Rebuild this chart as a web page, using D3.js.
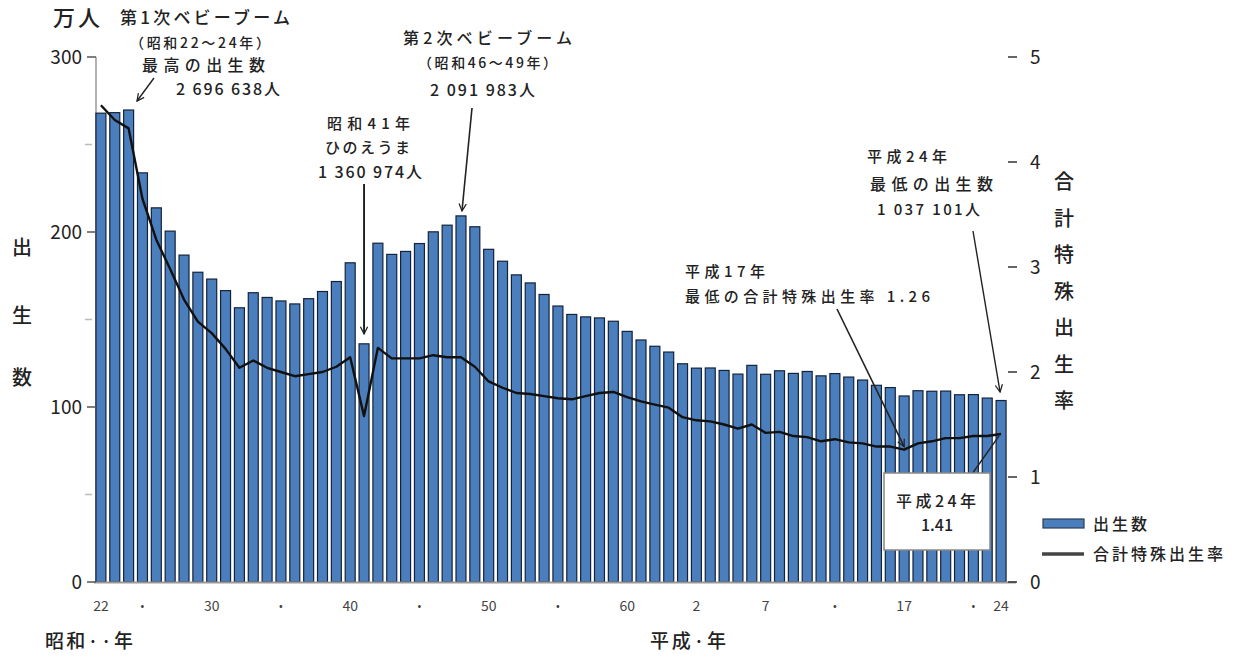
<!DOCTYPE html>
<html><head><meta charset="utf-8">
<script src="https://cdn.jsdelivr.net/npm/d3@7"></script>
<style>
body{margin:0;background:#fff;}
svg{display:block;font-family:"Noto Sans CJK JP","Noto Sans",sans-serif;}
</style></head>
<body><svg id="c" width="1238" height="659"></svg>
<script>
const years = [1947,1948,1949,1950,1951,1952,1953,1954,1955,1956,1957,1958,1959,1960,1961,1962,1963,1964,1965,1966,1967,1968,1969,1970,1971,1972,1973,1974,1975,1976,1977,1978,1979,1980,1981,1982,1983,1984,1985,1986,1987,1988,1989,1990,1991,1992,1993,1994,1995,1996,1997,1998,1999,2000,2001,2002,2003,2004,2005,2006,2007,2008,2009,2010,2011,2012];
const births = [267.9,268.2,269.7,233.8,213.8,200.5,186.8,177.0,173.1,166.5,156.7,165.3,162.6,160.6,158.9,161.9,166.0,171.7,182.4,136.1,193.6,187.2,188.9,193.4,200.1,203.9,209.2,203.0,190.1,183.3,175.5,170.9,164.3,157.7,152.9,151.5,150.9,149.0,143.2,138.3,134.7,131.4,124.7,122.2,122.3,120.9,118.8,123.8,118.7,120.7,119.2,120.3,117.8,119.1,117.1,115.4,112.4,111.1,106.3,109.3,109.0,109.1,107.0,107.1,105.1,103.7];
const tfr = [4.54,4.40,4.32,3.65,3.26,2.98,2.69,2.48,2.37,2.22,2.04,2.11,2.04,2.00,1.96,1.98,2.00,2.05,2.14,1.58,2.23,2.13,2.13,2.13,2.16,2.14,2.14,2.05,1.91,1.85,1.80,1.79,1.77,1.75,1.74,1.77,1.80,1.81,1.76,1.72,1.69,1.66,1.57,1.54,1.53,1.50,1.46,1.50,1.42,1.43,1.39,1.38,1.34,1.36,1.33,1.32,1.29,1.29,1.26,1.32,1.34,1.37,1.37,1.39,1.39,1.41];
const tickYears = [1947,1950,1955,1960,1965,1970,1975,1980,1985,1990,1995,2000,2005,2010,2012];
const tickLabels = ["22","•","30","•","40","•","50","•","60","2","7","•","17","•","24"];
const leftTicks = [0,100,200,300];
const leftMinor = [50,150,250];
const rightTicks = [0,1,2,3,4,5];

const svg = d3.select("#c");
const x = d3.scaleBand().domain(years).range([94,1008]).paddingInner(0.28).paddingOuter(0.14);
const yL = d3.scaleLinear().domain([0,300]).range([582,57]);
const yR = d3.scaleLinear().domain([0,5]).range([582,57]);
const cx = d => x(d) + x.bandwidth()/2;
const ink = "#222";

const defs = svg.append("defs");
defs.append("marker").attr("id","arr").attr("viewBox","0 0 10 10").attr("refX",9).attr("refY",5)
  .attr("markerWidth",9).attr("markerHeight",9).attr("orient","auto").attr("markerUnits","userSpaceOnUse")
  .append("path").attr("d","M1,1 L9,5 L1,9").attr("fill","none").attr("stroke","#222").attr("stroke-width",1.4);

svg.append("line").attr("x1",96).attr("x2",96).attr("y1",yL(300)).attr("y2",582).attr("stroke","#9a9a9a").attr("stroke-width",1.5);
svg.append("g").selectAll("rect").data(years).join("rect")
  .attr("x",d=>x(d)).attr("width",x.bandwidth())
  .attr("y",(d,i)=>yL(births[i])).attr("height",(d,i)=>582-yL(births[i]))
  .attr("fill","#4a7ebd").attr("stroke","#15233a").attr("stroke-width",1.2);
svg.append("line").attr("x1",94).attr("x2",1016).attr("y1",582.5).attr("y2",582.5).attr("stroke","#999").attr("stroke-width",2);

const gl = svg.append("g");
leftTicks.forEach(v=>{
  gl.append("line").attr("x1",87).attr("x2",96).attr("y1",yL(v)).attr("y2",yL(v)).attr("stroke","#555").attr("stroke-width",1.5);
  gl.append("text").attr("x",82).attr("y",yL(v)).attr("dy","0.35em").attr("text-anchor","end")
    .attr("font-size",19).attr("fill",ink).text(v);
});
leftMinor.forEach(v=>{
  gl.append("line").attr("x1",85).attr("x2",92).attr("y1",yL(v)).attr("y2",yL(v)).attr("stroke","#bbb").attr("stroke-width",1.5);
});
rightTicks.forEach(v=>{
  gl.append("line").attr("x1",1008).attr("x2",1017).attr("y1",yR(v)).attr("y2",yR(v)).attr("stroke","#333").attr("stroke-width",1.5);
  gl.append("text").attr("x",1030).attr("y",yR(v)).attr("dy","0.35em").attr("text-anchor","start")
    .attr("font-size",19).attr("fill",ink).text(v);
});
tickYears.forEach((yr,i)=>{
  svg.append("text").attr("x",cx(yr)).attr("y",606).attr("dy","0.35em").attr("text-anchor","middle")
    .attr("font-size",tickLabels[i]==="•"?11:14).attr("fill","#444").text(tickLabels[i]);
});

svg.append("path").datum(tfr)
  .attr("d", d3.line().x((d,i)=>cx(years[i])).y(d=>yR(d)))
  .attr("fill","none").attr("stroke","#111").attr("stroke-width",2.4).attr("stroke-linejoin","round");

function txt(xp,yp,s,size,opts={}){
  const t = svg.append("text").attr("x",xp).attr("y",yp).attr("dy","0.35em")
    .attr("font-size",size).attr("fill",opts.fill||ink).attr("font-weight",opts.weight||500)
    .attr("text-anchor",opts.anchor||"start").text(s);
  if(opts.w){ t.attr("textLength",opts.w).attr("lengthAdjust","spacing"); }
  return t;
}
txt(53,18,"万人",22,{w:47});
["出","生","数"].forEach((c,i)=>txt(22,[248,316,378][i],c,20,{anchor:"middle"}));
["合","計","特","殊","出","生","率"].forEach((c,i)=>txt(1064,182+i*36.5,c,20,{anchor:"middle"}));
txt(45,641,"昭和··年",19,{w:88});
txt(650,641,"平成·年",19,{w:76});

txt(120,18,"第1次ベビーブーム",17,{w:170});
txt(130,43,"（昭和22～24年）",14,{w:140});
txt(142,65,"最高の出生数",16,{w:123});
txt(176,89,"2 696 638人",16,{w:104});
svg.append("line").attr("x1",154).attr("y1",78).attr("x2",137).attr("y2",101).attr("stroke","#222").attr("stroke-width",1.4).attr("marker-end","url(#arr)");

txt(327,124,"昭和41年",15,{w:83});
txt(325,148,"ひのえうま",15,{w:85});
txt(318,172,"1 360 974人",16,{w:104});
svg.append("line").attr("x1",cx(1966)).attr("y1",184).attr("x2",cx(1966)).attr("y2",334).attr("stroke","#111").attr("stroke-width",1.8).attr("marker-end","url(#arr)");

txt(403,38,"第2次ベビーブーム",16,{w:169});
txt(418,63,"（昭和46～49年）",14,{w:139});
txt(430,90,"2 091 983人",16,{w:105});
svg.append("line").attr("x1",472).attr("y1",108).attr("x2",cx(1973)+1).attr("y2",211).attr("stroke","#222").attr("stroke-width",1.6).attr("marker-end","url(#arr)");

txt(867,157,"平成24年",15,{w:80});
txt(870,184,"最低の出生数",16,{w:123});
txt(877,210,"1 037 101人",15,{w:103});
svg.append("line").attr("x1",973).attr("y1",231).attr("x2",cx(2012)-1).attr("y2",392).attr("stroke","#222").attr("stroke-width",1.4).attr("marker-end","url(#arr)");

txt(685,272,"平成17年",15,{w:80});
txt(685,297,"最低の合計特殊出生率 1.26",15,{w:245});
svg.append("line").attr("x1",837).attr("y1",309).attr("x2",cx(2005)).attr("y2",yR(1.26)-3).attr("stroke","#222").attr("stroke-width",1.6).attr("marker-end","url(#arr)");

svg.append("line").attr("x1",972).attr("y1",474).attr("x2",cx(2012)-2).attr("y2",yR(1.41)+2).attr("stroke","#222").attr("stroke-width",1.4);
svg.append("rect").attr("x",884).attr("y",473).attr("width",106).attr("height",77).attr("fill","#fff").attr("stroke","#888").attr("stroke-width",1.5);
txt(896,501,"平成24年",16,{w:80});
txt(937,525,"1.41",16,{anchor:"middle"});

svg.append("rect").attr("x",1043).attr("y",519).attr("width",41).attr("height",9).attr("fill","#4a7ebd").attr("stroke","#2a3c58").attr("stroke-width",1.2);
txt(1093,524,"出生数",16,{w:54});
svg.append("line").attr("x1",1042).attr("x2",1084).attr("y1",554).attr("y2",554).attr("stroke","#444").attr("stroke-width",3.5);
txt(1093,554,"合計特殊出生率",16,{w:130});
</script></body></html>
